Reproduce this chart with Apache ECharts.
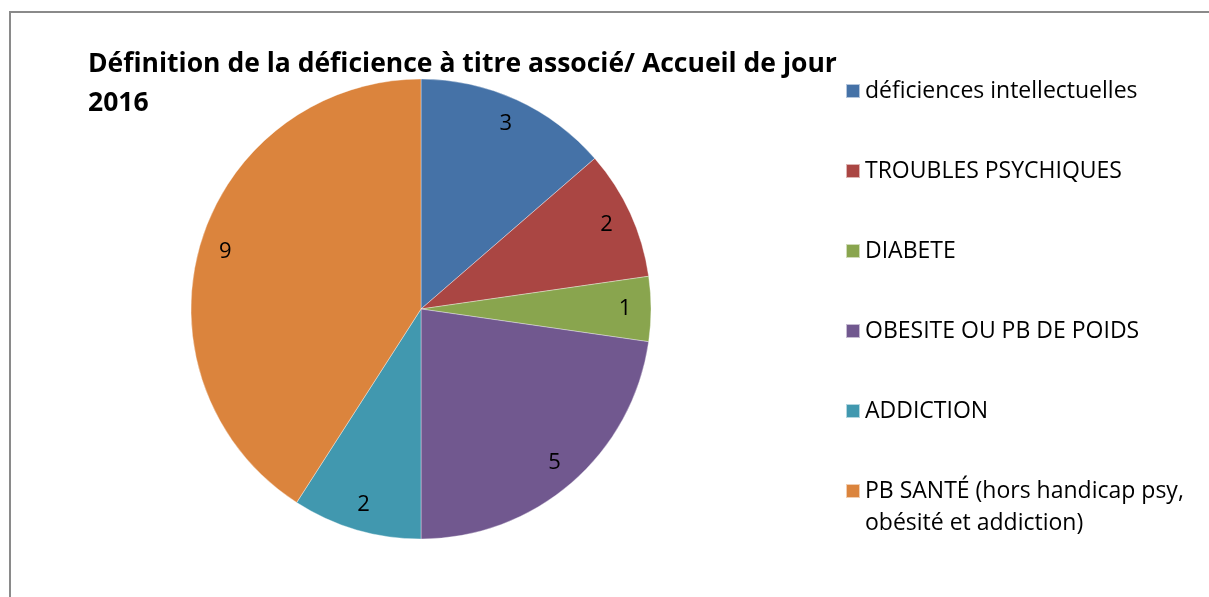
<!DOCTYPE html>
<html>
<head>
<meta charset="utf-8">
<script src="https://cdn.jsdelivr.net/npm/echarts@6/dist/echarts.min.js"></script>
<style>
  html, body { margin: 0; padding: 0; background: #fff; }
  #chart { width: 1209px; height: 597px; }
</style>
</head>
<body>
<div id="chart"></div>
<script>
  // données du graphique
  const categories = [
    'déficiences intellectuelles',
    'TROUBLES PSYCHIQUES',
    'DIABETE',
    'OBESITE OU PB DE POIDS',
    'ADDICTION',
    'PB SANTÉ (hors handicap psy, obésité et addiction)'
  ];
  const values = [3, 2, 1, 5, 2, 9];
  const colors = ['#4572A7', '#AA4643', '#89A54E', '#71588F', '#4198AF', '#DB843D'];

  const chart = echarts.init(document.getElementById('chart'));
  const font = '"Open Sans", sans-serif';

  const pieData = categories.map((name, i) => ({
    name: name,
    value: values[i],
    itemStyle: { color: colors[i] }
  }));

  const legendText = {
    fontFamily: font,
    fontSize: 23,
    color: '#000',
    lineHeight: 32
  };

  const option = {
    animation: false,
    textStyle: { fontFamily: font },
    graphic: [{
      type: 'rect',
      silent: true,
      shape: { x: 10, y: 12, width: 1400, height: 800 },
      style: { fill: 'none', stroke: '#8a8a8a', lineWidth: 2 }
    }],
    title: {
      text: 'Définition de la déficience à titre associé/ Accueil de jour\n2016',
      left: 83,
      top: 40,
      textStyle: {
        fontFamily: font,
        fontSize: 26.5,
        fontWeight: 'bold',
        color: '#000',
        lineHeight: 39
      }
    },
    legend: [
      {
        orient: 'vertical',
        left: 845,
        top: 75,
        height: 700,
        padding: 0,
        itemWidth: 14,
        itemHeight: 14,
        itemGap: 48,
        icon: 'rect',
        data: categories.slice(0, 5),
        textStyle: legendText
      },
      {
        // dernière entrée sur deux lignes, carré aligné sur la première ligne
        orient: 'vertical',
        left: 845,
        top: 443,
        padding: 0,
        itemWidth: 14,
        itemHeight: 14,
        icon: 'rect',
        data: categories.slice(5),
        formatter: function (name) {
          return '\n' + name.replace('psy, ', 'psy,\n');
        },
        textStyle: legendText
      }
    ],
    series: [
      {
        type: 'pie',
        center: [421, 309],
        radius: 230,
        startAngle: 90,
        clockwise: true,
        silent: true,
        data: pieData,
        label: { show: false },
        labelLine: { show: false },
        itemStyle: { borderColor: 'rgba(255,255,255,0.6)', borderWidth: 0.6 }
      },
      {
        // anneau transparent pour placer les étiquettes à ~87% du rayon
        type: 'pie',
        center: [421, 309],
        radius: [170, 232],
        startAngle: 90,
        clockwise: true,
        silent: true,
        data: pieData.map(d => ({ name: d.name, value: d.value })),
        itemStyle: { color: 'rgba(0,0,0,0)' },
        label: {
          show: true,
          position: 'inside',
          formatter: '{c}',
          fontFamily: font,
          fontSize: 22,
          color: '#000'
        },
        labelLine: { show: false }
      }
    ]
  };

  chart.setOption(option);
</script>
</body>
</html>
